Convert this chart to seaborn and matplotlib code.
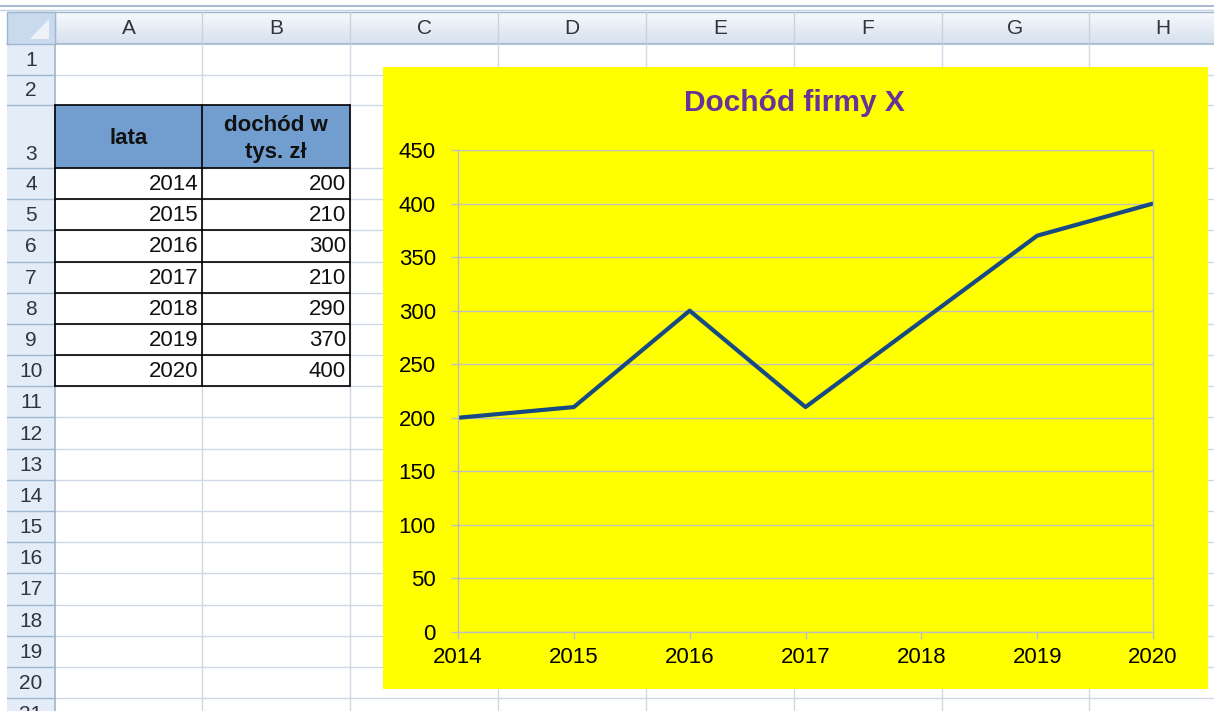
import matplotlib
matplotlib.use("Agg")
import matplotlib.pyplot as plt
import matplotlib.patches as mpatches
import seaborn as sns
import numpy as np

# ---------------- data ----------------
years = [2014, 2015, 2016, 2017, 2018, 2019, 2020]
income = [200, 210, 300, 210, 290, 370, 400]
col_letters = ["A", "B", "C", "D", "E", "F", "G", "H"]
header_lata = "lata"
header_income = "dochód w\ntys. zł"
chart_title = "Dochód firmy X"
y_ticks = [0, 50, 100, 150, 200, 250, 300, 350, 400, 450]

sns.set_theme(style="white")
plt.rcParams["font.family"] = ["Liberation Sans", "DejaVu Sans"]

W, H = 1214, 711
fig = plt.figure(figsize=(W / 100, H / 100), dpi=100)
fig.patch.set_facecolor("white")

sheet = fig.add_axes([0, 0, 1, 1])
sheet.set_xlim(0, W)
sheet.set_ylim(H, 0)
sheet.axis("off")

# ---------- layout of spreadsheet ----------
col_edges = [7, 55, 202, 350, 498, 646, 794, 942, 1089, 1237]
hdr_top, hdr_bot = 12, 44
row_edges = [44, 75, 105] + [168 + 31.18 * k for k in range(19)]
grid_c = "#d0d7e5"
hdr_border = "#9eb6ce"
txt_c = "#2e3440"

# top strip lines
sheet.plot([0, W], [6, 6], color="#9fb4ce", lw=1.3)
sheet.plot([0, W], [10, 10], color="#c5d3e4", lw=1)

# gridlines of cells
for x in col_edges[2:]:
    sheet.plot([x, x], [hdr_bot, H], color=grid_c, lw=1, zorder=1)
for y in row_edges[1:]:
    sheet.plot([col_edges[1], W], [y, y], color=grid_c, lw=1, zorder=1)

# column header band (gradient)
grad = np.linspace(0, 1, 32).reshape(-1, 1)
top_c = np.array([0.97, 0.98, 0.99])
bot_c = np.array([0.84, 0.88, 0.93])
img = top_c[None, None, :] * (1 - grad[:, :, None]) + bot_c[None, None, :] * grad[:, :, None]
sheet.imshow(img, extent=(col_edges[0], W, hdr_bot, hdr_top), aspect="auto", zorder=2,
             interpolation="bilinear")
sheet.set_xlim(0, W)
sheet.set_ylim(H, 0)
sheet.plot([col_edges[0], W], [hdr_bot, hdr_bot], color=hdr_border, lw=1.2, zorder=3)
sheet.plot([col_edges[0], W], [hdr_top, hdr_top], color=hdr_border, lw=1, zorder=3)
for x in col_edges[1:]:
    sheet.plot([x, x], [hdr_top, hdr_bot], color="#c5d2e2", lw=1, zorder=3)
for i, lab in enumerate(col_letters):
    cx = (col_edges[i + 1] + col_edges[i + 2]) / 2
    sheet.text(cx, (hdr_top + hdr_bot) / 2 + 1, lab, ha="center", va="center",
               fontsize=15, color=txt_c, zorder=4)

# corner cell
sheet.add_patch(mpatches.Rectangle((col_edges[0], hdr_top), col_edges[1] - col_edges[0],
                                   hdr_bot - hdr_top, facecolor="#c9d9ee", edgecolor=hdr_border,
                                   lw=1, zorder=3))
sheet.add_patch(mpatches.Polygon([[49, 19], [49, 39], [30, 39]], closed=True,
                                 facecolor="#eef2f7", edgecolor="none", zorder=4))

# row header column
sheet.add_patch(mpatches.Rectangle((col_edges[0], hdr_bot), col_edges[1] - col_edges[0],
                                   H - hdr_bot, facecolor="#e4ecf7", edgecolor="none", zorder=2))
sheet.plot([col_edges[1], col_edges[1]], [hdr_bot, H], color=hdr_border, lw=1.2, zorder=3)
for r in range(len(row_edges) - 1):
    y0, y1 = row_edges[r], row_edges[r + 1]
    sheet.plot([col_edges[0], col_edges[1]], [y1, y1], color=hdr_border, lw=1, zorder=3)
    yc = (y0 + y1) / 2 if r != 2 else y1 - 14
    if yc < H + 10:
        sheet.text(31, yc + 1, str(r + 1), ha="center", va="center",
                   fontsize=15, color=txt_c, zorder=4, clip_on=True)

# ---------- data table ----------
xa0, xa1, xb1 = col_edges[1], col_edges[2], col_edges[3]
y3a, y3b = row_edges[2], row_edges[3]
sheet.add_patch(mpatches.Rectangle((xa0, y3a), xb1 - xa0, y3b - y3a,
                                   facecolor="#729dcf", edgecolor="none", zorder=5))
sheet.text((xa0 + xa1) / 2, 138, header_lata, ha="center", va="center",
           fontsize=16, fontweight="bold", color="#111111", zorder=6)
sheet.text((xa1 + xb1) / 2, 139, header_income, ha="center", va="center",
           fontsize=16, fontweight="bold", color="#111111", linespacing=1.35, zorder=6)

for i, (yr, val) in enumerate(zip(years, income)):
    y0, y1 = row_edges[3 + i], row_edges[4 + i]
    yc = (y0 + y1) / 2 + 1
    sheet.text(xa1 - 4, yc, str(yr), ha="right", va="center", fontsize=16,
               color="#111111", zorder=6)
    sheet.text(xb1 - 4, yc, str(val), ha="right", va="center", fontsize=16,
               color="#111111", zorder=6)

t_top, t_bot = row_edges[2], row_edges[3 + len(years)]
for x in [xa0, xa1, xb1]:
    sheet.plot([x, x], [t_top, t_bot], color="black", lw=1.2, zorder=7)
for r in range(2, 4 + len(years)):
    sheet.plot([xa0, xb1], [row_edges[r], row_edges[r]], color="black", lw=1.2, zorder=7)

# ---------- chart area ----------
cx0, cx1, cy0, cy1 = 383, 1208, 67, 689
sheet.add_patch(mpatches.Rectangle((cx0, cy0), cx1 - cx0, cy1 - cy0,
                                   facecolor="#ffff00", edgecolor="none", zorder=10))
sheet.text((458 + 1153) / 2 - 11, 103, chart_title, ha="center", va="center",
           fontsize=21.5, fontweight="bold", color="#663399", zorder=11)

pl, pr, pt, pb = 458, 1153, 150, 632
ax = fig.add_axes([pl / W, (H - pb) / H, (pr - pl) / W, (pb - pt) / H])
ax.set_facecolor("#ffff00")
sns.lineplot(x=years, y=income, ax=ax, color="#174a85", linewidth=3.0)
ax.set_xlim(years[0], years[-1])
ax.set_ylim(y_ticks[0], y_ticks[-1])
ax.set_xticks(years)
ax.set_xticklabels([str(y) for y in years])
ax.set_yticks(y_ticks)
ax.grid(axis="y", color="#c0c0c0", lw=1)
ax.grid(axis="x", visible=False)
for s in ax.spines.values():
    s.set_visible(True)
    s.set_color("#bfbfbf")
    s.set_linewidth(1)
ax.spines["top"].set_visible(False)
ax.tick_params(axis="both", which="both", direction="out", length=5, width=1,
               color="#bfbfbf", labelsize=16, labelcolor="black")
ax.tick_params(axis="x", pad=6)
ax.tick_params(axis="y", pad=11, left=True)
ax.tick_params(axis="x", bottom=True)
ax.set_xlabel("")
ax.set_ylabel("")

fig.savefig("out.png", dpi=100, facecolor="white")
